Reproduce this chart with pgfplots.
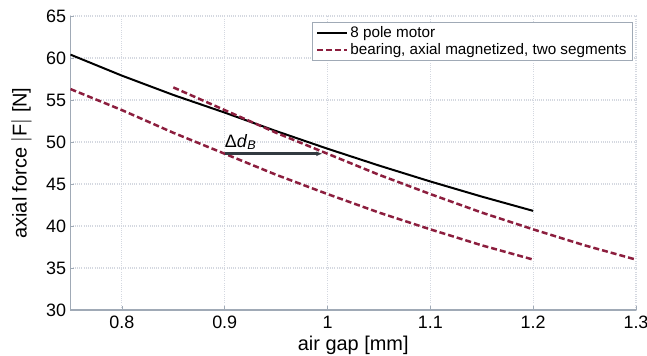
\documentclass[border=0pt]{standalone}
\usepackage{pgfplots}
\pgfplotsset{compat=1.18}
\usetikzlibrary{arrows.meta}
\usepackage{fontspec}
\setmainfont{Liberation Sans}
\definecolor{axgray}{RGB}{160,170,182}
\definecolor{gridgray}{RGB}{212,216,224}
\definecolor{maroon}{RGB}{140,30,62}
\definecolor{arrowgray}{RGB}{50,58,64}
\begin{document}
\begin{tikzpicture}[x=1bp,y=1bp]
\begin{axis}[
  scale only axis,
  width=565.5bp, height=294bp,
  xmin=0.75, xmax=1.3, ymin=30, ymax=65,
  xtick={0.8,0.9,1,1.1,1.2,1.3},
  ytick={30,35,40,45,50,55,60,65},
  xticklabels={0.8,0.9,1,1.1,1.2,1.3},
  /pgf/number format/assume math mode=true,
  axis x line*=bottom, axis y line*=left,
  axis line style={axgray, line width=1.2pt, -},
  tick style={axgray, line width=0.8pt},
  major tick length=4bp,
  tick align=inside,
  grid=major,
  major grid style={gridgray, dash pattern=on 1bp off 1.2bp, line width=1.1pt},
  ticklabel style={font=\fontsize{18}{21}\selectfont},
  xticklabel style={anchor=base, yshift=-18bp},
  yticklabel style={anchor=east, xshift=-1bp},
  xlabel={air gap [mm]}, ylabel={axial force $|$F$|$ [N]},
  label style={font=\fontsize{20}{24}\selectfont},
  xlabel style={at={(axis description cs:0.5,-0.138)}, anchor=base},
  ylabel style={at={(axis description cs:-0.0778,0.5)}, anchor=base},
  legend style={at={(0.9947,0.9796)}, anchor=north east, draw=axgray, line width=0.8pt,
    font=\fontsize{15.3}{18}\selectfont, row sep=1bp, inner xsep=4bp, inner ysep=2bp},
  legend cell align=left,
  legend image code/.code={\draw[#1] (0bp,0bp) -- (30bp,0bp);},
]
\addplot[black, line width=2pt] coordinates {
 (0.75,60.4) (0.8,57.9) (0.85,55.6) (0.9,53.5) (0.95,51.3) (1.0,49.2) (1.05,47.2) (1.1,45.3) (1.15,43.5) (1.2,41.8)};
\addlegendentry{8 pole motor}
\addplot[maroon, line width=2.5pt, dash pattern=on 6bp off 3bp] coordinates {
 (0.85,56.5) (0.9,53.8) (0.95,51.1) (1.0,48.6) (1.05,46.1) (1.1,43.8) (1.15,41.6) (1.2,39.6) (1.25,37.7) (1.3,36.0)};
\addlegendentry{bearing, axial magnetized, two segments}
\addplot[maroon, line width=2.5pt, dash pattern=on 6bp off 3bp, forget plot] coordinates {
 (0.75,56.3) (0.8,53.8) (0.85,51.1) (0.9,48.6) (0.95,46.1) (1.0,43.8) (1.05,41.6) (1.1,39.6) (1.15,37.7) (1.2,36.0)};
\addplot[draw=arrowgray, line width=3bp, -{Latex[length=6bp,width=5bp]}, forget plot] coordinates {(0.9,48.6) (0.995,48.6)};
\node[anchor=base west, font=\fontsize{18}{21}\selectfont, inner sep=0pt] at (axis cs:0.9,49.4) {Δ\textit{d}\textsubscript{\textit{B}}};
\coordinate (o) at (rel axis cs:0,0);
\end{axis}
\pgfresetboundingbox
\path (o) ++(-70.5bp,-46bp) rectangle ++(647bp,356bp);
\end{tikzpicture}
\end{document}
